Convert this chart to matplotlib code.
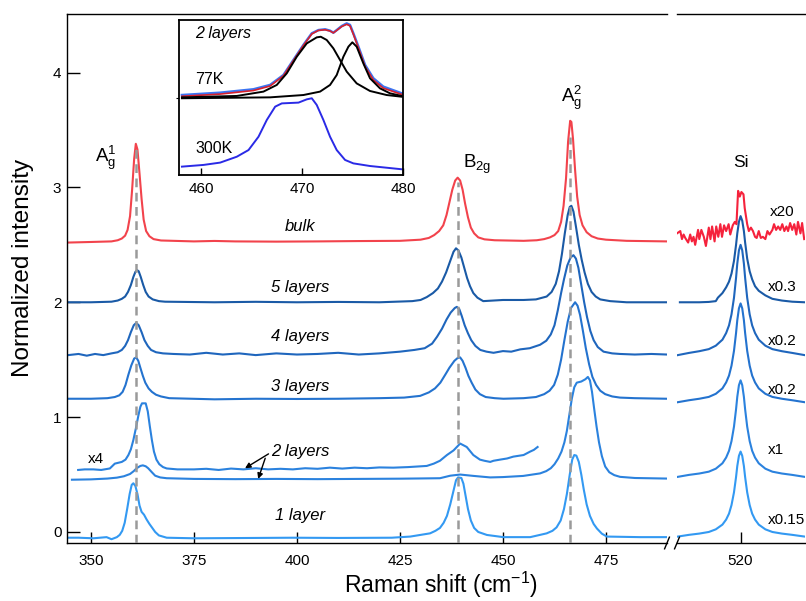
import matplotlib
matplotlib.use("Agg")
import matplotlib.pyplot as plt

plt.rcParams['font.family'] = ['Liberation Sans', 'DejaVu Sans']
plt.rcParams['mathtext.fontset'] = 'custom'
plt.rcParams['mathtext.rm'] = 'Liberation Sans'
plt.rcParams['mathtext.it'] = 'Liberation Sans:italic'

# ---------------- data ----------------
bulk_main = [(344.5,2.52),(350,2.525),(355,2.53),(356.5,2.54),(357.5,2.555),(358.3,2.58),(358.9,2.63),(359.5,2.75),
             (360.0,2.98),(360.5,3.25),(360.9,3.38),(361.3,3.33),(361.8,3.12),(362.3,2.9),(362.8,2.72),(363.4,2.62),
             (364.2,2.575),(365.2,2.55),(367,2.538),(375,2.53),(380,2.534),(385,2.53),(395,2.528),(405,2.53),
             (415,2.533),(425,2.535),(430,2.545),(432,2.56),(433.3,2.585),(434.5,2.62),(435.5,2.67),(436.3,2.76),
             (437,2.87),(437.7,2.98),(438.4,3.06),(439,3.085),(439.6,3.06),(440.2,2.98),(440.8,2.86),(441.5,2.74),
             (442.2,2.65),(443,2.6),(444,2.565),(445.5,2.548),(448,2.54),(455,2.535),(458.2,2.54),(460,2.55),
             (461.4,2.565),(462.5,2.585),(463.4,2.62),(464.1,2.7),(464.7,2.84),(465.3,3.08),(465.8,3.4),(466.3,3.58),
             (466.6,3.57),(467.0,3.42),(467.5,3.15),(468,2.92),(468.6,2.76),(469.3,2.67),(470.3,2.61),(471.5,2.575),
             (473,2.555),(475,2.545),(480,2.535),(489.8,2.53)]
bulk_si = [(504.6,2.60),(505.4,2.62),(505.8,2.55),(506.2,2.59),(506.6,2.56),(507.3,2.52),(507.8,2.59),(508.2,2.53),
           (508.6,2.57),(509.0,2.50),(509.7,2.63),(510.0,2.55),(510.5,2.63),(511.1,2.57),(511.6,2.49),(512.3,2.65),
           (512.7,2.55),(513.1,2.66),(513.7,2.53),(514.1,2.66),(514.6,2.57),(515.1,2.68),(515.5,2.57),(516.0,2.67),
           (516.5,2.62),(517.1,2.68),(517.5,2.59),(518.1,2.67),(518.6,2.70),(519.0,2.68),(519.4,2.97),(519.8,2.92),
           (520.2,2.96),(520.7,2.94),(521.0,2.82),(521.3,2.75),(521.6,2.68),(522.0,2.62),(522.5,2.65),(523.0,2.62),
           (523.5,2.57),(523.9,2.56),(524.4,2.62),(524.9,2.56),(525.4,2.57),(526.0,2.55),(526.5,2.62),(527.0,2.59),
           (527.7,2.63),(528.1,2.68),(528.6,2.63),(529.1,2.66),(529.6,2.63),(530.1,2.68),(530.6,2.62),(531.1,2.66),
           (531.5,2.62),(532.0,2.69),(532.5,2.63),(533.0,2.68),(533.5,2.59),(533.9,2.70),(534.5,2.60),(534.9,2.69),
           (535.4,2.55)]

l5_main = [(344.5,2.0),(350,2.0),(355,2.005),(356.5,2.015),(357.5,2.03),(358.3,2.05),(359.0,2.09),(359.7,2.15),
           (360.3,2.22),(360.8,2.265),(361.2,2.28),(361.6,2.27),(362.1,2.22),(362.7,2.15),(363.3,2.09),(364.0,2.05),
           (365.0,2.025),(366.5,2.01),(368,2.005),(380,2.0),(390,2.004),(400,2.0),(410,2.003),(420,2.0),(428,2.01),
           (430,2.02),(431.5,2.045),(433,2.08),(434.2,2.12),(435.2,2.18),(436.2,2.26),(437.2,2.36),(438.0,2.44),
           (438.6,2.47),(439.2,2.45),(439.9,2.39),(440.6,2.3),(441.3,2.21),(442.0,2.14),(442.8,2.08),(443.8,2.04),
           (445.2,2.01),(450,2.02),(455,2.02),(458,2.025),(460.6,2.05),(461.8,2.09),(462.8,2.16),(463.6,2.27),
           (464.3,2.42),(465.0,2.6),(465.7,2.76),(466.2,2.83),(466.6,2.84),(467.1,2.79),(467.7,2.66),(468.4,2.5),
           (469.1,2.37),(469.8,2.26),(470.6,2.16),(471.5,2.09),(472.5,2.05),(473.6,2.025),(476,2.01),(480,2.0),
           (485,2.0),(489.8,2.0)]
l5_si = [(505.3,2.0),(507.5,2.0),(510,2.0),(512.3,2.003),(514.0,2.01),(514.5,2.04),(515.6,2.08),(516.5,2.13),
         (517.2,2.18),(517.8,2.25),(518.4,2.36),(518.9,2.5),(519.2,2.6),(519.6,2.7),(520.0,2.75),(520.4,2.71),
         (520.8,2.62),(521.1,2.52),(521.6,2.38),(522.2,2.27),(522.8,2.2),(523.5,2.14),(524.4,2.1),(526,2.06),
         (527.7,2.03),(530,2.015),(532.5,2.005),(535.5,2.0)]

l4_main = [(344.5,1.54),(347,1.55),(349,1.535),(351,1.55),(353,1.54),(355,1.555),(356.5,1.565),(357.5,1.585),
           (358.3,1.62),(359.0,1.67),(359.7,1.74),(360.4,1.80),(361.0,1.82),(361.6,1.8),(362.3,1.74),(363.0,1.67),
           (363.8,1.62),(364.6,1.585),(365.8,1.565),(367.5,1.555),(370,1.55),(374,1.545),(378,1.56),(382,1.545),
           (386,1.555),(390,1.54),(395,1.555),(400,1.545),(405,1.55),(410,1.56),(415,1.545),(420,1.555),(425,1.57),
           (428.5,1.585),(431,1.6),(432.8,1.64),(434,1.7),(435.2,1.77),(436.3,1.85),(437.3,1.91),(438.3,1.95),
           (438.8,1.96),(439.4,1.94),(440.0,1.88),(440.7,1.8),(441.5,1.73),(442.3,1.67),(443.3,1.62),(444.5,1.585),
           (446,1.57),(447.7,1.56),(450,1.575),(452,1.57),(454.2,1.59),(456.5,1.6),(459,1.63),(460.5,1.665),
           (461.6,1.72),(462.5,1.8),(463.3,1.93),(464.1,2.08),(464.8,2.2),(465.6,2.32),(466.4,2.39),(467.1,2.41),
           (467.7,2.38),(468.3,2.3),(469.0,2.15),(469.7,2.0),(470.4,1.87),(471.2,1.75),(472,1.67),(473,1.61),
           (474.4,1.57),(476.5,1.555),(478.4,1.55),(482,1.545),(486,1.55),(489.8,1.545)]
l4_si = [(504.8,1.54),(507.5,1.559),(510,1.574),(512.3,1.592),(514,1.622),(515.6,1.674),(516.5,1.732),(517.2,1.799),
         (517.8,1.895),(518.4,2.039),(518.9,2.212),(519.2,2.337),(519.6,2.452),(520.0,2.50),(520.4,2.452),
         (520.8,2.337),(521.1,2.212),(521.6,2.039),(522.2,1.895),(522.8,1.799),(523.5,1.732),(524.4,1.674),
         (526,1.622),(527.7,1.592),(530,1.574),(532.5,1.559),(535.5,1.54)]

l3_main = [(344.5,1.16),(350,1.16),(354,1.165),(355.8,1.175),(356.9,1.19),(357.7,1.22),(358.4,1.28),(359.1,1.37),
           (359.8,1.45),(360.5,1.51),(361.0,1.52),(361.5,1.49),(362.0,1.43),(362.6,1.36),(363.2,1.3),(364.0,1.25),
           (364.8,1.22),(365.8,1.195),(367,1.18),(369,1.165),(380,1.155),(390,1.16),(400,1.158),(410,1.16),
           (420,1.165),(426,1.17),(429.9,1.185),(432,1.215),(433.5,1.25),(434.8,1.3),(436,1.37),(437,1.43),
           (438.2,1.49),(439.0,1.515),(439.6,1.52),(440.2,1.49),(440.9,1.43),(441.6,1.36),(442.4,1.3),(443.3,1.24),
           (444.4,1.2),(445.8,1.175),(448,1.165),(450.1,1.16),(455,1.165),(458,1.175),(460,1.2),(461.3,1.23),
           (462.4,1.28),(463.3,1.37),(464.1,1.5),(464.9,1.67),(465.7,1.83),(466.5,1.95),(467.5,2.0),(468.1,1.97),
           (468.7,1.89),(469.4,1.75),(470.1,1.6),(470.9,1.46),(471.7,1.35),(472.6,1.28),(473.6,1.23),(474.8,1.2),
           (476.5,1.18),(478.4,1.17),(482,1.165),(489.8,1.16)]
l3_si = [(504.8,1.13),(507.5,1.147),(510,1.16),(512.3,1.176),(514,1.203),(515.6,1.25),(516.5,1.302),(517.2,1.362),
         (517.8,1.448),(518.4,1.577),(518.9,1.732),(519.2,1.844),(519.6,1.947),(520.0,1.99),(520.4,1.947),
         (520.8,1.844),(521.1,1.732),(521.6,1.577),(522.2,1.448),(522.8,1.362),(523.5,1.302),(524.4,1.25),
         (526,1.203),(527.7,1.176),(530,1.16),(532.5,1.147),(535.5,1.13)]

l2_main = [(345.4,0.455),(350,0.458),(354,0.465),(356.3,0.473),(358,0.485),(359.5,0.505),(360.4,0.53),(361.1,0.555),
           (362.0,0.575),(362.6,0.58),(363.3,0.572),(363.9,0.555),(364.8,0.52),(365.6,0.49),(366.8,0.475),
           (368.4,0.468),(375,0.462),(385,0.46),(395,0.462),(405,0.46),(415,0.462),(425,0.464),(430,0.466),
           (434.7,0.468),(437.2,0.49),(439.6,0.50),(442.9,0.488),(446.9,0.475),(450,0.478),(454.9,0.488),
           (459.0,0.51),(460.5,0.53),(461.6,0.555),(462.5,0.59),(463.4,0.64),(464.2,0.7),(464.9,0.78),(465.5,0.88),
           (466.1,1.02),(466.7,1.16),(467.3,1.26),(467.9,1.3),(469.0,1.31),(470.0,1.33),(470.6,1.35),(471.1,1.32),
           (471.6,1.22),(472.1,1.08),(472.7,0.92),(473.3,0.78),(474.0,0.66),(474.8,0.57),(475.8,0.52),(477,0.495),
           (478.4,0.48),(482,0.47),(489.8,0.465)]
l2x4_main = [(346.9,0.54),(348.5,0.545),(350.6,0.545),(352.5,0.54),(354.6,0.553),(355.8,0.595),(357.5,0.61),
             (358.4,0.63),(359.1,0.67),(359.7,0.72),(360.3,0.80),(360.9,0.9),(361.5,1.01),(362.0,1.09),(362.4,1.12),
             (363.3,1.12),(363.8,1.05),(364.3,0.92),(364.8,0.8),(365.3,0.7),(365.9,0.63),(366.6,0.59),(367.5,0.565),
             (368.4,0.553),(371,0.545),(375,0.545),(378,0.55),(381,0.54),(384,0.552),(387,0.545),(390,0.555),
             (393,0.545),(396,0.55),(399,0.545),(402,0.555),(405,0.55),(408,0.56),(411,0.552),(414,0.56),(417,0.555),
             (420,0.562),(423.4,0.56),(427,0.565),(431.5,0.575),(433.2,0.595),(434.7,0.62),(436.4,0.67),(438.0,0.71),
             (439.6,0.77),(441.2,0.74),(442.8,0.67),(444.4,0.63),(445.5,0.62),(446.9,0.61),(447.7,0.62),(449.3,0.63),
             (451,0.64),(452.5,0.656),(455.0,0.67),(456.6,0.70),(457.5,0.715),(458.4,0.74)]
l2_si = [(504.8,0.48),(507.5,0.497),(510,0.509),(512.3,0.525),(514,0.551),(515.6,0.598),(516.5,0.648),(517.2,0.707),
         (517.8,0.791),(518.4,0.917),(518.9,1.068),(519.2,1.177),(519.6,1.278),(520.0,1.32),(520.4,1.278),
         (520.8,1.177),(521.1,1.068),(521.6,0.917),(522.2,0.791),(522.8,0.707),(523.5,0.648),(524.4,0.598),
         (526,0.551),(527.7,0.525),(530,0.509),(532.5,0.497),(535.5,0.48)]

l1_main = [(344.5,-0.05),(347,-0.05),(350.6,-0.055),(353.8,-0.045),(355.0,-0.063),(356.3,-0.045),(357.0,-0.025),
           (357.6,0.01),(358.2,0.08),(358.8,0.2),(359.4,0.33),(359.9,0.41),(360.3,0.424),(360.8,0.4),(361.3,0.33),
           (361.8,0.23),(362.3,0.175),(362.9,0.15),(363.5,0.11),(364.2,0.07),(364.9,0.035),(365.6,0.0),(366.5,-0.03),
           (368.4,-0.05),(375,-0.055),(385,-0.053),(399,-0.05),(410,-0.052),(423,-0.05),(427.5,-0.04),(432.3,-0.012),
           (433.6,0.01),(434.7,0.035),(435.6,0.08),(436.4,0.14),(437.2,0.24),(438.0,0.36),(438.6,0.45),(439.1,0.475),
           (439.9,0.47),(440.4,0.42),(440.9,0.32),(441.5,0.2),(442.2,0.1),(443.0,0.035),(444.0,0.0),(446.1,-0.026),
           (450.1,-0.045),(456.6,-0.045),(460.6,-0.012),(462,0.01),(463.0,0.04),(464.0,0.1),(464.8,0.2),(465.5,0.33),
           (466.2,0.5),(466.8,0.63),(467.3,0.67),(467.8,0.665),(468.4,0.61),(469.0,0.5),(469.6,0.37),(470.3,0.24),
           (471.1,0.14),(472,0.07),(472.8,0.03),(474,-0.015),(475.2,-0.04),(483.3,-0.045),(489.8,-0.045)]
l1_si = [(504.8,-0.04),(507.5,-0.025),(510,-0.014),(512.3,0.0),(514,0.023),(515.6,0.064),(516.5,0.108),(517.2,0.16),
         (517.8,0.234),(518.4,0.345),(518.9,0.478),(519.2,0.574),(519.6,0.663),(520.0,0.70),(520.4,0.663),
         (520.8,0.574),(521.1,0.478),(521.6,0.345),(522.2,0.234),(522.8,0.16),(523.5,0.108),(524.4,0.064),
         (526,0.023),(527.7,0.0),(530,-0.014),(532.5,-0.025),(535.5,-0.04)]

# inset (2 layers, A_g^2 region), arbitrary units
k300 = [(458.09,0.054),(460.23,0.065),(461.88,0.080),(463.53,0.118),(464.69,0.161),(465.68,0.247),(466.50,0.355),
        (467.33,0.441),(467.99,0.462),(469.64,0.467),(470.46,0.488),(470.96,0.495),(471.45,0.452),(472.11,0.355),
        (472.77,0.247),(473.43,0.161),(474.26,0.097),(475.08,0.075),(476.73,0.058),(479.87,0.037)]
k77_data = [(458.09,0.516),(461.88,0.531),(465.18,0.553),(466.83,0.581),(468.15,0.645),(469.14,0.742),(470.13,0.839),
            (470.96,0.914),(471.62,0.935),(472.28,0.940),(472.77,0.931),(473.10,0.918),(473.43,0.935),(473.93,0.961),
            (474.42,0.978),(474.75,0.968),(475.08,0.914),(475.58,0.828),(476.24,0.710),(477.06,0.624),(478.05,0.570),
            (479.87,0.527)]
k77_fit = [(458.09,0.508),(461.88,0.522),(465.18,0.545),(466.83,0.574),(468.15,0.640),(469.14,0.738),(470.13,0.836),
           (470.96,0.910),(471.62,0.933),(472.28,0.937),(472.77,0.929),(473.10,0.917),(473.43,0.933),(473.93,0.958),
           (474.42,0.972),(474.75,0.962),(475.08,0.908),(475.58,0.820),(476.24,0.700),(477.06,0.613),(478.05,0.560),
           (479.87,0.520)]
k77_comp1 = [(458.09,0.501),(463.53,0.510),(466.17,0.538),(467.49,0.581),(468.48,0.656),(469.47,0.763),(470.46,0.849),
             (471.45,0.888),(471.85,0.892),(472.44,0.871),(473.10,0.817),(473.76,0.742),(474.42,0.667),(475.41,0.591),
             (476.73,0.542),(478.38,0.516),(479.87,0.505)]
k77_comp2 = [(458.09,0.495),(466.83,0.501),(470.13,0.516),(471.78,0.538),(472.77,0.581),(473.43,0.645),(474.09,0.763),
             (474.59,0.828),(474.98,0.856),(475.41,0.828),(476.07,0.720),(476.73,0.624),(477.72,0.559),(478.71,0.527),
             (479.87,0.510)]

mode_x = [360.9, 439.0, 466.3]
mode_top = [3.38, 3.05, 3.44]
sample_labels = ['bulk', '5 layers', '4 layers', '3 layers', '2 layers', '1 layer']
sample_label_y = [2.66, 2.13, 1.70, 1.264, 0.70, 0.14]
scale_labels = ['x20', 'x0.3', 'x0.2', 'x0.2', 'x1', 'x0.15']
scale_label_y = [2.79, 2.13, 1.66, 1.24, 0.71, 0.105]
main_xticks = [350, 375, 400, 425, 450, 475]
si_xticks = [520]
yticks = [0, 1, 2, 3, 4]

colors = {'bulk': '#f2434c', 'l5': '#1a5aa6', 'l4': '#1f66bd', 'l3': '#2473cf',
          'l2': '#2b82de', 'l1': '#3399f2', 'si_red': '#f5223c'}

# ---------------- figure ----------------
fig = plt.figure(figsize=(8.06, 6.01), dpi=100)
ax = fig.add_axes([67/806, 1-543/601, 600/806, 529/601])
ax2 = fig.add_axes([677/806, 1-543/601, 128/806, 529/601], sharey=ax)

def xy(pairs):
    return [p[0] for p in pairs], [p[1] for p in pairs]

lw = 1.5
for pairs, c in [(bulk_main, colors['bulk']), (l5_main, colors['l5']), (l4_main, colors['l4']),
                 (l3_main, colors['l3']), (l2x4_main, colors['l2']), (l2_main, colors['l2']),
                 (l1_main, colors['l1'])]:
    ax.plot(*xy(pairs), color=c, lw=lw, zorder=2, solid_joinstyle='round')
for pairs, c in [(bulk_si, colors['si_red']), (l5_si, colors['l5']), (l4_si, colors['l4']),
                 (l3_si, colors['l3']), (l2_si, colors['l2']), (l1_si, colors['l1'])]:
    ax2.plot(*xy(pairs), color=c, lw=lw, zorder=2, solid_joinstyle='round')

for mx, mt in zip(mode_x, mode_top):
    ax.plot([mx, mx], [-0.1, mt], color='#9a9a9a', lw=1.8, ls=(0, (3.5, 2.2)), zorder=3)

ax.set_xlim(344.2, 489.8)
ax2.set_xlim(504.6, 535.6)
ax.set_ylim(-0.096, 4.51)

for a in (ax, ax2):
    a.spines['right'].set_visible(False)
    for s in a.spines.values():
        s.set_linewidth(1.0)
ax2.spines['left'].set_visible(False)

ax.set_xticks(main_xticks)
ax.set_yticks(yticks)
ax2.set_xticks(si_xticks)
ax.tick_params(axis='x', direction='in', length=8, width=1, labelsize=11, pad=8)
ax.tick_params(axis='y', direction='in', length=9.5, width=1, labelsize=11, pad=4)
ax2.tick_params(axis='x', direction='in', length=8, width=1, labelsize=11, pad=8)
ax2.tick_params(axis='y', left=False, labelleft=False)

# break marks
for a, x0 in ((ax, 1.0), (ax2, 0.0)):
    dx = 0.004 if a is ax else 0.019
    a.plot([x0 - dx, x0 + dx], [-0.011, 0.011], transform=a.transAxes, color='k', lw=1, clip_on=False)

# mode labels
ax.text(353.6, 3.26, r'$\mathrm{A}_{\mathrm{g}}^{1}$', fontsize=13.5, ha='center', va='center')
ax.text(443.8, 3.2, r'$\mathrm{B}_{\mathrm{2g}}$', fontsize=13.5, ha='center', va='center')
ax.text(466.6, 3.78, r'$\mathrm{A}_{\mathrm{g}}^{2}$', fontsize=13.5, ha='center', va='center')
ax2.text(520.2, 3.22, 'Si', fontsize=12.5, ha='center', va='center')

for lab, yy in zip(sample_labels, sample_label_y):
    ax.text(400.7, yy, lab, fontsize=12, style='italic', ha='center', va='center')
ax.text(351.1, 0.635, 'x4', fontsize=11, ha='center', va='center')
for i, (lab, yy) in enumerate(zip(scale_labels, scale_label_y)):
    ax2.text(527.1 if i == 0 else 526.6, yy, lab, fontsize=11, ha='left', va='center')

# arrows for 2 layers
arrow_tail = [(393.1, 0.68), (392.3, 0.642)]
arrow_head = [(387.4, 0.555), (390.6, 0.462)]
for t, h in zip(arrow_tail, arrow_head):
    ax.annotate('', xy=h, xytext=t,
                arrowprops=dict(arrowstyle='-|>', color='k', lw=1.0, mutation_scale=8,
                                shrinkA=0, shrinkB=0))

fig.text(441/806, 1-585/601, r'Raman shift (cm$^{\mathregular{-1}}$)', fontsize=16.5, ha='center', va='center')
fig.text(23/806, 1-268/601, 'Normalized intensity', fontsize=17.5, rotation=90, ha='center', va='center')

# ---------------- inset ----------------
ins = fig.add_axes([179/806, 1-175/601, 224/806, 155/601])
ins.plot(*xy(k300), color='#2a2ae6', lw=1.4)
ins.plot(*xy(k77_data), color='#3b74f2', lw=1.8)
ins.plot(*xy(k77_fit), color='#d8202c', lw=1.2)
ins.plot(*xy(k77_comp1), color='k', lw=1.4)
ins.plot(*xy(k77_comp2), color='k', lw=1.4)
ins.set_xlim(457.8, 480)
ins.set_ylim(0, 1)
ins.set_xticks([460, 470, 480])
ins.set_yticks([0.5])
ins.set_yticklabels([])
ins.tick_params(axis='x', direction='in', length=5, width=1, labelsize=11, pad=5)
ins.tick_params(axis='y', direction='out', length=2, width=0.8)
for s in ins.spines.values():
    s.set_linewidth(1.3)
ins.text(459.4, 0.91, '2 layers', fontsize=11.5, style='italic', ha='left', va='center')
ins.text(459.4, 0.613, '77K', fontsize=11.5, ha='left', va='center')
ins.text(459.4, 0.172, '300K', fontsize=11.5, ha='left', va='center')

fig.savefig('out.png', dpi=100)
